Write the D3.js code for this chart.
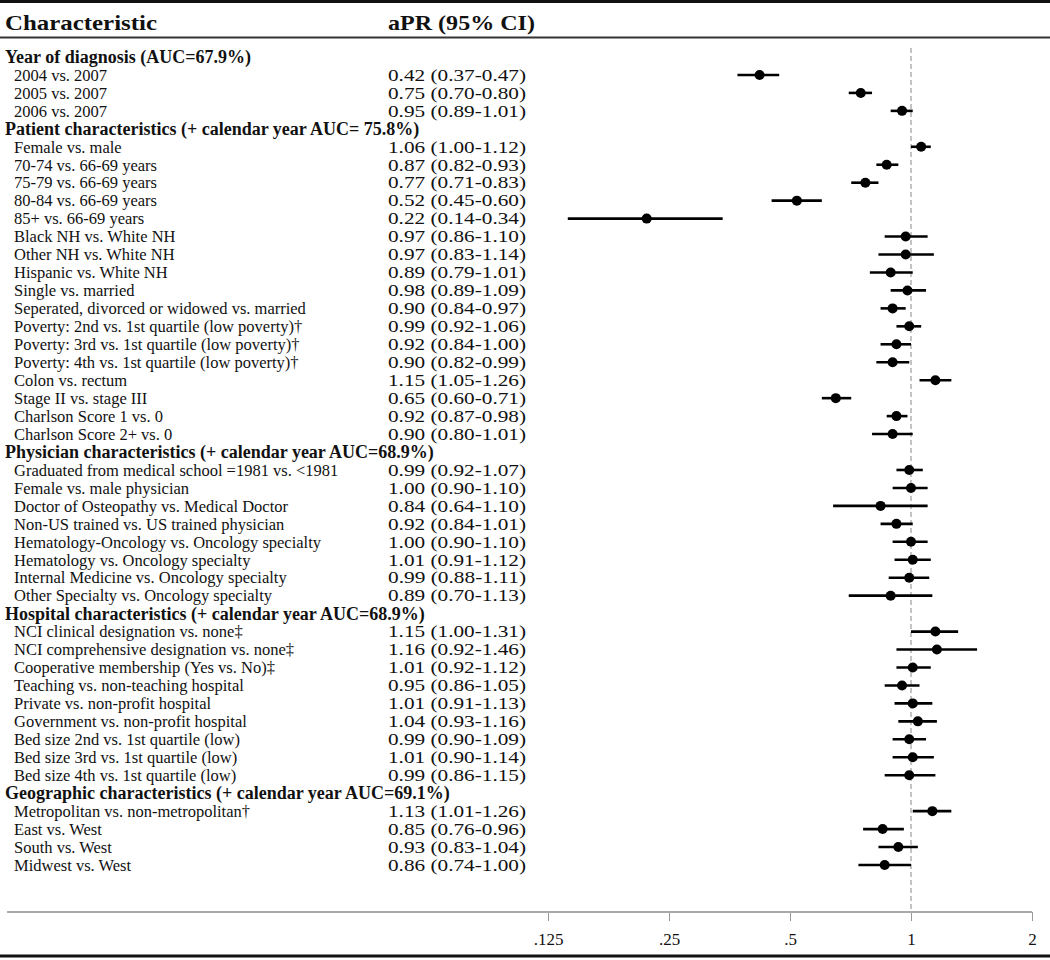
<!DOCTYPE html>
<html lang="en">
<head>
<meta charset="utf-8">
<title>aPR forest plot</title>
<style>
  body { margin: 0; background: #fff; }
  text { font-family: 'Liberation Serif', 'Times New Roman', serif; fill: #111; }
</style>
<script src="https://d3js.org/d3.v7.min.js"></script>
</head>
<body>
<svg id="chart" width="1050" height="960"></svg>
<script>
// group headers and their rows
var groups = [
  "Year of diagnosis (AUC=67.9%)",
  "Patient characteristics (+ calendar year AUC= 75.8%)",
  "Physician characteristics (+ calendar year AUC=68.9%)",
  "Hospital characteristics (+ calendar year AUC=68.9%)",
  "Geographic characteristics (+ calendar year AUC=69.1%)"
];
var groupSizes = [3, 17, 8, 9, 4];

var labels = [
  "2004 vs. 2007", "2005 vs. 2007", "2006 vs. 2007",
  "Female vs. male", "70-74 vs. 66-69 years", "75-79 vs. 66-69 years",
  "80-84 vs. 66-69 years", "85+ vs. 66-69 years", "Black NH vs. White NH",
  "Other NH vs. White NH", "Hispanic vs. White NH", "Single vs. married",
  "Seperated, divorced or widowed vs. married",
  "Poverty: 2nd vs. 1st quartile (low poverty)\u2020",
  "Poverty: 3rd vs. 1st quartile (low poverty)\u2020",
  "Poverty: 4th vs. 1st quartile (low poverty)\u2020",
  "Colon vs. rectum", "Stage II vs. stage III", "Charlson Score 1 vs. 0",
  "Charlson Score 2+ vs. 0",
  "Graduated from medical school =1981 vs. <1981", "Female vs. male physician",
  "Doctor of Osteopathy vs. Medical Doctor", "Non-US trained vs. US trained physician",
  "Hematology-Oncology vs. Oncology specialty", "Hematology vs. Oncology specialty",
  "Internal Medicine vs. Oncology specialty", "Other Specialty vs. Oncology specialty",
  "NCI clinical designation vs. none\u2021", "NCI comprehensive designation vs. none\u2021",
  "Cooperative membership (Yes vs. No)\u2021", "Teaching vs. non-teaching hospital",
  "Private vs. non-profit hospital", "Government vs. non-profit hospital",
  "Bed size 2nd vs. 1st quartile (low)", "Bed size 3rd vs. 1st quartile (low)",
  "Bed size 4th vs. 1st quartile (low)",
  "Metropolitan vs. non-metropolitan\u2020", "East vs. West", "South vs. West",
  "Midwest vs. West"
];

var est = [0.42, 0.75, 0.95,
  1.06, 0.87, 0.77, 0.52, 0.22, 0.97, 0.97, 0.89, 0.98, 0.90, 0.99, 0.92, 0.90, 1.15, 0.65, 0.92, 0.90,
  0.99, 1.00, 0.84, 0.92, 1.00, 1.01, 0.99, 0.89,
  1.15, 1.16, 1.01, 0.95, 1.01, 1.04, 0.99, 1.01, 0.99,
  1.13, 0.85, 0.93, 0.86];
var lo = [0.37, 0.70, 0.89,
  1.00, 0.82, 0.71, 0.45, 0.14, 0.86, 0.83, 0.79, 0.89, 0.84, 0.92, 0.84, 0.82, 1.05, 0.60, 0.87, 0.80,
  0.92, 0.90, 0.64, 0.84, 0.90, 0.91, 0.88, 0.70,
  1.00, 0.92, 0.92, 0.86, 0.91, 0.93, 0.90, 0.90, 0.86,
  1.01, 0.76, 0.83, 0.74];
var hi = [0.47, 0.80, 1.01,
  1.12, 0.93, 0.83, 0.60, 0.34, 1.10, 1.14, 1.01, 1.09, 0.97, 1.06, 1.00, 0.99, 1.26, 0.71, 0.98, 1.01,
  1.07, 1.10, 1.10, 1.01, 1.10, 1.12, 1.11, 1.13,
  1.31, 1.46, 1.12, 1.05, 1.13, 1.16, 1.09, 1.14, 1.15,
  1.26, 0.96, 1.04, 1.00];

var ticks = [0.125, 0.25, 0.5, 1, 2];
var tickLabels = [".125", ".25", ".5", "1", "2"];

// build the row list: header rows + estimate rows
var rows = [];
var k = 0;
groups.forEach(function(g, gi) {
  rows.push({type: "head", label: g});
  for (var j = 0; j < groupSizes[gi]; j++, k++) {
    rows.push({type: "item", label: labels[k], est: est[k], lo: lo[k], hi: hi[k]});
  }
});

var fmt = d3.format(".2f");
var svg = d3.select("#chart");

var x = d3.scaleLog().domain([0.125, 2]).range([548, 1032]);
var y = d3.scalePoint().domain(d3.range(rows.length)).range([57, 865]);

// rules top / under header / bottom
svg.append("line").attr("x1", 0).attr("x2", 1050).attr("y1", 1.5).attr("y2", 1.5)
  .attr("stroke", "#111").attr("stroke-width", 3);
svg.append("line").attr("x1", 0).attr("x2", 1050).attr("y1", 37.5).attr("y2", 37.5)
  .attr("stroke", "#333").attr("stroke-width", 2);
svg.append("line").attr("x1", 0).attr("x2", 1050).attr("y1", 956).attr("y2", 956)
  .attr("stroke", "#111").attr("stroke-width", 3);

svg.append("text").attr("x", 5).attr("y", 30).attr("font-weight", "bold")
  .attr("font-size", 22).attr("textLength", 152).attr("lengthAdjust", "spacingAndGlyphs")
  .text("Characteristic");
svg.append("text").attr("x", 388).attr("y", 30).attr("font-weight", "bold")
  .attr("font-size", 22).attr("textLength", 147).attr("lengthAdjust", "spacingAndGlyphs")
  .text("aPR (95% CI)");

// reference line at 1
svg.append("line").attr("x1", x(1)).attr("x2", x(1)).attr("y1", 48).attr("y2", 912)
  .attr("stroke", "#888").attr("stroke-width", 1).attr("stroke-dasharray", "5,3");

// axis
var axis = svg.append("g").attr("transform", "translate(0,912)")
  .call(d3.axisBottom(x).tickValues(ticks).tickFormat(function(d, i) { return tickLabels[i]; })
    .tickSize(9).tickPadding(12));
axis.select(".domain").remove();
axis.selectAll(".tick line").attr("stroke", "#999");
axis.selectAll(".tick text").attr("font-size", 17)
  .style("font-family", "'Liberation Serif', serif").attr("fill", "#111");
svg.append("line").attr("x1", 7).attr("x2", 1032).attr("y1", 912).attr("y2", 912)
  .attr("stroke", "#aaa").attr("stroke-width", 2);

var r = svg.selectAll("g.row").data(rows).enter().append("g").attr("class", "row")
  .attr("transform", function(d, i) { return "translate(0," + y(i) + ")"; });

r.append("text")
  .attr("x", function(d) { return d.type == "head" ? 5 : 14; })
  .attr("dy", "0.35em")
  .attr("font-size", function(d) { return d.type == "head" ? 18 : 16.5; })
  .attr("font-weight", function(d) { return d.type == "head" ? "bold" : "normal"; })
  .text(function(d) { return d.label; });

var items = r.filter(function(d) { return d.type == "item"; });
items.append("text").attr("x", 388).attr("dy", "0.35em").attr("font-size", 16.5)
  .attr("textLength", 138).attr("lengthAdjust", "spacingAndGlyphs")
  .text(function(d) { return fmt(d.est) + " (" + fmt(d.lo) + "-" + fmt(d.hi) + ")"; });
items.append("line")
  .attr("x1", function(d) { return x(d.lo); })
  .attr("x2", function(d) { return x(d.hi); })
  .attr("stroke", "#000").attr("stroke-width", 2.6);
items.append("circle").attr("cx", function(d) { return x(d.est); })
  .attr("r", 5).attr("fill", "#000");
</script>
</body>
</html>
